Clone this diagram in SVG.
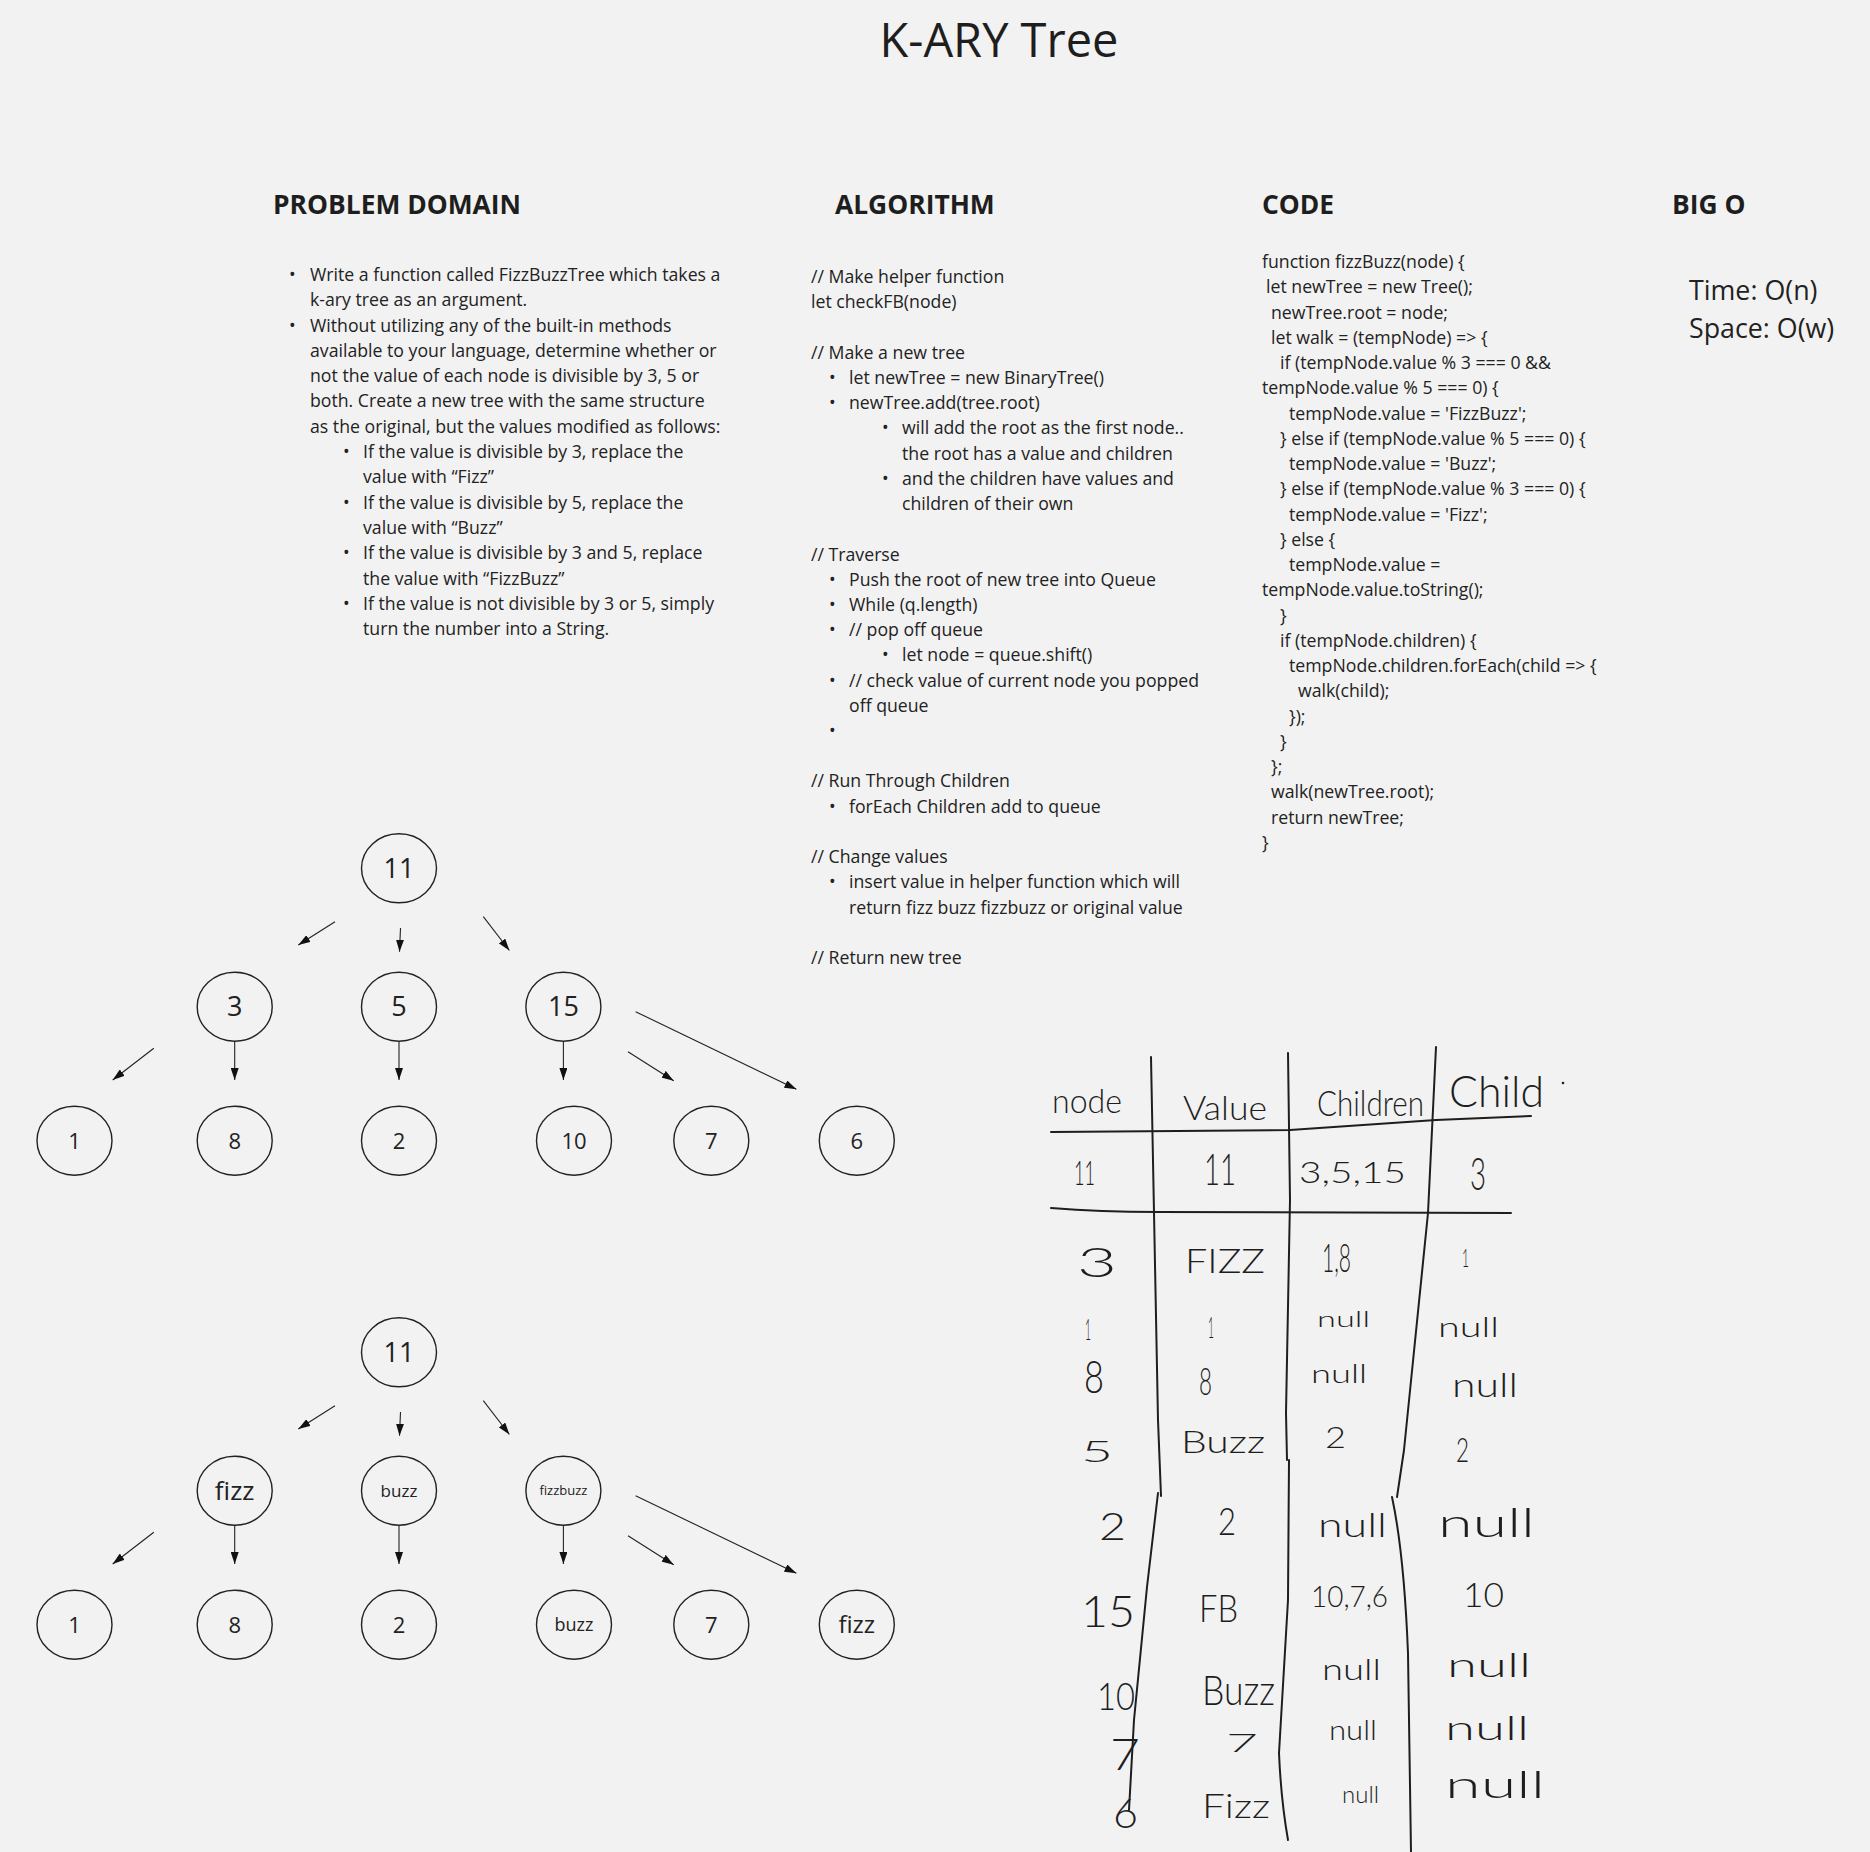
<svg xmlns="http://www.w3.org/2000/svg" width="1870" height="1852" viewBox="0 0 1870 1852">
<defs>
<style>
.bg{fill:#f2f2f2}
.t{font-family:"Open Sans","Noto Sans","Liberation Sans",sans-serif;font-size:17.7px;fill:#222}
.h{font-family:"Open Sans","Noto Sans","Liberation Sans",sans-serif;font-size:26.4px;font-weight:700;fill:#1e1e1e}
.title{font-family:"Open Sans","Noto Sans","Liberation Sans",sans-serif;font-size:47px;fill:#1e1e1e}
.bo{font-family:"Open Sans","Noto Sans","Liberation Sans",sans-serif;font-size:26.8px;fill:#222}
.node ellipse{fill:none;stroke:#222;stroke-width:1.4}
.node text{font-family:"Open Sans","Noto Sans","Liberation Sans",sans-serif;fill:#222;text-anchor:middle}
.edge{stroke:#222;stroke-width:1.1;fill:none;marker-end:url(#ah)}
.hw{font-family:Lato,Roboto,"Noto Sans",sans-serif;font-weight:300;fill:#1e1e1e}
.ink{fill:none;stroke:#1e1e1e;stroke-width:2;stroke-linecap:round;stroke-linejoin:round}
</style>
<marker id="ah" markerUnits="userSpaceOnUse" markerWidth="12" markerHeight="8" refX="12" refY="4" orient="auto">
<path d="M0,0 L12,4 L0,8 z" fill="#111"/>
</marker>
</defs>
<rect class="bg" x="0" y="0" width="1870" height="1852"/>

<text class="title" x="999" y="57" text-anchor="middle">K-ARY Tree</text>

<g id="problem-domain">
<text class="h" x="273" y="214">PROBLEM DOMAIN</text>
<text class="t" x="289" y="281">•</text><text class="t" x="310" y="281">Write a function called FizzBuzzTree which takes a</text>
<text class="t" x="310" y="306">k-ary tree as an argument.</text>
<text class="t" x="289" y="332">•</text><text class="t" x="310" y="332">Without utilizing any of the built-in methods</text>
<text class="t" x="310" y="357">available to your language, determine whether or</text>
<text class="t" x="310" y="382">not the value of each node is divisible by 3, 5 or</text>
<text class="t" x="310" y="407">both. Create a new tree with the same structure</text>
<text class="t" x="310" y="433">as the original, but the values modified as follows:</text>
<text class="t" x="343" y="458">•</text><text class="t" x="363" y="458">If the value is divisible by 3, replace the</text>
<text class="t" x="363" y="483">value with “Fizz”</text>
<text class="t" x="343" y="509">•</text><text class="t" x="363" y="509">If the value is divisible by 5, replace the</text>
<text class="t" x="363" y="534">value with “Buzz”</text>
<text class="t" x="343" y="559">•</text><text class="t" x="363" y="559">If the value is divisible by 3 and 5, replace</text>
<text class="t" x="363" y="585">the value with “FizzBuzz”</text>
<text class="t" x="343" y="610">•</text><text class="t" x="363" y="610">If the value is not divisible by 3 or 5, simply</text>
<text class="t" x="363" y="635">turn the number into a String.</text>
</g>

<g id="algorithm">
<text class="h" x="835" y="214">ALGORITHM</text>
<text class="t" x="811" y="283">// Make helper function</text>
<text class="t" x="811" y="308">let checkFB(node)</text>
<text class="t" x="811" y="359">// Make a new tree</text>
<text class="t" x="829" y="384">•</text><text class="t" x="849" y="384">let newTree = new BinaryTree()</text>
<text class="t" x="829" y="409">•</text><text class="t" x="849" y="409">newTree.add(tree.root)</text>
<text class="t" x="882" y="434">•</text><text class="t" x="902" y="434">will add the root as the first node..</text>
<text class="t" x="902" y="460">the root has a value and children</text>
<text class="t" x="882" y="485">•</text><text class="t" x="902" y="485">and the children have values and</text>
<text class="t" x="902" y="510">children of their own</text>
<text class="t" x="811" y="561">// Traverse</text>
<text class="t" x="829" y="586">•</text><text class="t" x="849" y="586">Push the root of new tree into Queue</text>
<text class="t" x="829" y="611">•</text><text class="t" x="849" y="611">While (q.length)</text>
<text class="t" x="829" y="636">•</text><text class="t" x="849" y="636">// pop off queue</text>
<text class="t" x="882" y="661">•</text><text class="t" x="902" y="661">let node = queue.shift()</text>
<text class="t" x="829" y="687">•</text><text class="t" x="849" y="687">// check value of current node you popped</text>
<text class="t" x="849" y="712">off queue</text>
<text class="t" x="829" y="737">•</text>
<text class="t" x="811" y="787">// Run Through Children</text>
<text class="t" x="829" y="813">•</text><text class="t" x="849" y="813">forEach Children add to queue</text>
<text class="t" x="811" y="863">// Change values</text>
<text class="t" x="829" y="888">•</text><text class="t" x="849" y="888">insert value in helper function which will</text>
<text class="t" x="849" y="914">return fizz buzz fizzbuzz or original value</text>
<text class="t" x="811" y="964">// Return new tree</text>
</g>

<g id="code">
<text class="h" x="1262" y="214">CODE</text>
<text class="t" x="1262" y="268">function fizzBuzz(node) {</text>
<text class="t" x="1266" y="293">let newTree = new Tree();</text>
<text class="t" x="1271" y="319">newTree.root = node;</text>
<text class="t" x="1271" y="344">let walk = (tempNode) =&gt; {</text>
<text class="t" x="1280" y="369">if (tempNode.value % 3 === 0 &amp;&amp;</text>
<text class="t" x="1262" y="394">tempNode.value % 5 === 0) {</text>
<text class="t" x="1289" y="420">tempNode.value = 'FizzBuzz';</text>
<text class="t" x="1280" y="445">} else if (tempNode.value % 5 === 0) {</text>
<text class="t" x="1289" y="470">tempNode.value = 'Buzz';</text>
<text class="t" x="1280" y="495">} else if (tempNode.value % 3 === 0) {</text>
<text class="t" x="1289" y="521">tempNode.value = 'Fizz';</text>
<text class="t" x="1280" y="546">} else {</text>
<text class="t" x="1289" y="571">tempNode.value =</text>
<text class="t" x="1262" y="596">tempNode.value.toString();</text>
<text class="t" x="1280" y="622">}</text>
<text class="t" x="1280" y="647">if (tempNode.children) {</text>
<text class="t" x="1289" y="672">tempNode.children.forEach(child =&gt; {</text>
<text class="t" x="1298" y="697">walk(child);</text>
<text class="t" x="1289" y="723">});</text>
<text class="t" x="1280" y="748">}</text>
<text class="t" x="1271" y="773">};</text>
<text class="t" x="1271" y="798">walk(newTree.root);</text>
<text class="t" x="1271" y="824">return newTree;</text>
<text class="t" x="1262" y="849">}</text>
</g>

<g id="big-o">
<text class="h" x="1672" y="214">BIG O</text>
<text class="bo" x="1689" y="300">Time: O(n)</text>
<text class="bo" x="1689" y="338">Space: O(w)</text>
</g>

<g id="connectors">
<path class="edge" d="M335,921.7 L298.3,945"/>
<path class="edge" d="M400.5,928 L399.5,951.7"/>
<path class="edge" d="M483.3,916.7 L509.4,950.5"/>
<path class="edge" d="M153.8,1048.3 L112.7,1080"/>
<path class="edge" d="M234.7,1041.7 L234.7,1080"/>
<path class="edge" d="M399,1041.7 L399,1080"/>
<path class="edge" d="M563.4,1041.7 L563.4,1080"/>
<path class="edge" d="M628,1051.7 L673.7,1080.7"/>
<path class="edge" d="M635.6,1011.7 L796.4,1089.3"/>
<g transform="translate(0,484)">
<path class="edge" d="M335,921.7 L298.3,945"/>
<path class="edge" d="M400.5,928 L399.5,951.7"/>
<path class="edge" d="M483.3,916.7 L509.4,950.5"/>
<path class="edge" d="M153.8,1048.3 L112.7,1080"/>
<path class="edge" d="M234.7,1041.7 L234.7,1080"/>
<path class="edge" d="M399,1041.7 L399,1080"/>
<path class="edge" d="M563.4,1041.7 L563.4,1080"/>
<path class="edge" d="M628,1051.7 L673.7,1080.7"/>
<path class="edge" d="M635.6,1011.7 L796.4,1089.3"/>
</g>
</g>

<g id="tree1">
<g id="t1-n11" class="node"><ellipse cx="399" cy="868.3" rx="37.5" ry="34.5"/><text x="399" y="878" font-size="27">11</text></g>
<g id="t1-n3" class="node"><ellipse cx="234.7" cy="1006.7" rx="37.5" ry="34.5"/><text x="234.7" y="1016.4" font-size="27">3</text></g>
<g id="t1-n5" class="node"><ellipse cx="399" cy="1006.7" rx="37.5" ry="34.5"/><text x="399" y="1016.4" font-size="27">5</text></g>
<g id="t1-n15" class="node"><ellipse cx="563.4" cy="1006.7" rx="37.5" ry="34.5"/><text x="563.4" y="1016.4" font-size="27">15</text></g>
<g id="t1-n1" class="node"><ellipse cx="74.5" cy="1140.7" rx="37.5" ry="34.5"/><text x="74.5" y="1148.6" font-size="22">1</text></g>
<g id="t1-n8" class="node"><ellipse cx="234.7" cy="1140.7" rx="37.5" ry="34.5"/><text x="234.7" y="1148.6" font-size="22">8</text></g>
<g id="t1-n2" class="node"><ellipse cx="399" cy="1140.7" rx="37.5" ry="34.5"/><text x="399" y="1148.6" font-size="22">2</text></g>
<g id="t1-n10" class="node"><ellipse cx="574" cy="1140.7" rx="37.5" ry="34.5"/><text x="574" y="1148.6" font-size="22">10</text></g>
<g id="t1-n7" class="node"><ellipse cx="711.3" cy="1140.7" rx="37.5" ry="34.5"/><text x="711.3" y="1148.6" font-size="22">7</text></g>
<g id="t1-n6" class="node"><ellipse cx="856.8" cy="1140.7" rx="37.5" ry="34.5"/><text x="856.8" y="1148.6" font-size="22">6</text></g>
</g>

<g id="tree2">
<g id="t2-n11" class="node"><ellipse cx="399" cy="1352.3" rx="37.5" ry="34.5"/><text x="399" y="1362" font-size="27">11</text></g>
<g id="t2-fizz" class="node"><ellipse cx="234.7" cy="1490.7" rx="37.5" ry="34.5"/><text x="234.7" y="1500" font-size="26">fizz</text></g>
<g id="t2-buzz" class="node"><ellipse cx="399" cy="1490.7" rx="37.5" ry="34.5"/><text x="399" y="1496.5" font-size="17">buzz</text></g>
<g id="t2-fizzbuzz" class="node"><ellipse cx="563.4" cy="1490.7" rx="37.5" ry="34.5"/><text x="563.4" y="1495" font-size="13">fizzbuzz</text></g>
<g id="t2-n1" class="node"><ellipse cx="74.5" cy="1624.7" rx="37.5" ry="34.5"/><text x="74.5" y="1632.6" font-size="22">1</text></g>
<g id="t2-n8" class="node"><ellipse cx="234.7" cy="1624.7" rx="37.5" ry="34.5"/><text x="234.7" y="1632.6" font-size="22">8</text></g>
<g id="t2-n2" class="node"><ellipse cx="399" cy="1624.7" rx="37.5" ry="34.5"/><text x="399" y="1632.6" font-size="22">2</text></g>
<g id="t2-buzz2" class="node"><ellipse cx="574" cy="1624.7" rx="37.5" ry="34.5"/><text x="574" y="1631.2" font-size="18">buzz</text></g>
<g id="t2-n7" class="node"><ellipse cx="711.3" cy="1624.7" rx="37.5" ry="34.5"/><text x="711.3" y="1632.6" font-size="22">7</text></g>
<g id="t2-fizz2" class="node"><ellipse cx="856.8" cy="1624.7" rx="37.5" ry="34.5"/><text x="856.8" y="1633" font-size="24">fizz</text></g>
</g>

<g id="handwritten-table">
<path class="ink" d="M1151,1057 L1158,1420 L1161,1496"/>
<path class="ink" d="M1158,1493 L1147,1587 L1134,1720 L1129,1810"/>
<path class="ink" d="M1288,1053 L1290,1200 L1286,1413 L1287,1460"/>
<path class="ink" d="M1289,1460 L1288,1600 L1279,1753 Q1281,1800 1288,1840"/>
<path class="ink" d="M1436,1047 L1428,1213 L1404,1450 L1397,1497"/>
<path class="ink" d="M1392,1497 Q1404,1553 1408,1653 L1411,1852"/>
<path class="ink" d="M1051,1132 L1290,1130 L1436,1120 L1531,1116"/>
<path class="ink" d="M1051,1208 Q1100,1212 1158,1212 L1511,1213"/>
<circle cx="1563" cy="1083" r="1.3" fill="#1e1e1e"/>

<text class="hw" x="1052" y="1113" font-size="34" textLength="70" lengthAdjust="spacingAndGlyphs">node</text>
<text class="hw" x="1183" y="1120" font-size="34" textLength="84" lengthAdjust="spacingAndGlyphs">Value</text>
<text class="hw" x="1317" y="1116" font-size="36" textLength="107" lengthAdjust="spacingAndGlyphs">Children</text>
<text class="hw" x="1449" y="1107" font-size="44" textLength="95" lengthAdjust="spacingAndGlyphs">Child</text>

<text class="hw" x="1074" y="1185" font-size="34" textLength="21" lengthAdjust="spacingAndGlyphs">11</text>
<text class="hw" x="1204" y="1185" font-size="44" textLength="32" lengthAdjust="spacingAndGlyphs">11</text>
<text class="hw" x="1299" y="1183" font-size="30" textLength="107" lengthAdjust="spacingAndGlyphs">3,5,15</text>
<text class="hw" x="1470" y="1190" font-size="45" textLength="16" lengthAdjust="spacingAndGlyphs">3</text>

<text class="hw" x="1077" y="1277" font-size="42" textLength="40" lengthAdjust="spacingAndGlyphs">3</text>
<text class="hw" x="1185" y="1273" font-size="34" textLength="80" lengthAdjust="spacingAndGlyphs">FIZZ</text>
<text class="hw" x="1322" y="1272" font-size="40" textLength="29" lengthAdjust="spacingAndGlyphs">1,8</text>
<text class="hw" x="1462" y="1267" font-size="26" textLength="7" lengthAdjust="spacingAndGlyphs">1</text>

<text class="hw" x="1085" y="1340" font-size="30" textLength="6" lengthAdjust="spacingAndGlyphs">1</text>
<text class="hw" x="1208" y="1338" font-size="29" textLength="6" lengthAdjust="spacingAndGlyphs">1</text>
<text class="hw" x="1317" y="1327" font-size="21" textLength="53" lengthAdjust="spacingAndGlyphs">null</text>
<text class="hw" x="1438" y="1337" font-size="27" textLength="61" lengthAdjust="spacingAndGlyphs">null</text>

<text class="hw" x="1084" y="1393" font-size="45" textLength="20" lengthAdjust="spacingAndGlyphs">8</text>
<text class="hw" x="1199" y="1395" font-size="38" textLength="13" lengthAdjust="spacingAndGlyphs">8</text>
<text class="hw" x="1311" y="1383" font-size="25" textLength="56" lengthAdjust="spacingAndGlyphs">null</text>
<text class="hw" x="1452" y="1397" font-size="34" textLength="66" lengthAdjust="spacingAndGlyphs">null</text>

<text class="hw" x="1081" y="1462" font-size="30" textLength="32" lengthAdjust="spacingAndGlyphs">5</text>
<text class="hw" x="1181" y="1453" font-size="32" textLength="84" lengthAdjust="spacingAndGlyphs">Buzz</text>
<text class="hw" x="1325" y="1448" font-size="29" textLength="21" lengthAdjust="spacingAndGlyphs">2</text>
<text class="hw" x="1456" y="1462" font-size="34" textLength="13" lengthAdjust="spacingAndGlyphs">2</text>

<text class="hw" x="1099" y="1540" font-size="37" textLength="27" lengthAdjust="spacingAndGlyphs">2</text>
<text class="hw" x="1218" y="1535" font-size="38" textLength="18" lengthAdjust="spacingAndGlyphs">2</text>
<text class="hw" x="1318" y="1537" font-size="34" textLength="69" lengthAdjust="spacingAndGlyphs">null</text>
<text class="hw" x="1438" y="1537" font-size="40" textLength="97" lengthAdjust="spacingAndGlyphs">null</text>

<text class="hw" x="1081" y="1627" font-size="44" textLength="54" lengthAdjust="spacingAndGlyphs">15</text>
<text class="hw" x="1199" y="1622" font-size="37" textLength="39" lengthAdjust="spacingAndGlyphs">FB</text>
<text class="hw" x="1311" y="1607" font-size="30" textLength="77" lengthAdjust="spacingAndGlyphs">10,7,6</text>
<text class="hw" x="1463" y="1607" font-size="33" textLength="41" lengthAdjust="spacingAndGlyphs">10</text>

<text class="hw" x="1097" y="1710" font-size="37" textLength="38" lengthAdjust="spacingAndGlyphs">10</text>
<text class="hw" x="1202" y="1705" font-size="42" textLength="73" lengthAdjust="spacingAndGlyphs">Buzz</text>
<text class="hw" x="1322" y="1680" font-size="30" textLength="59" lengthAdjust="spacingAndGlyphs">null</text>
<text class="hw" x="1447" y="1677" font-size="34" textLength="84" lengthAdjust="spacingAndGlyphs">null</text>

<text class="hw" x="1110" y="1770" font-size="44" textLength="30" lengthAdjust="spacingAndGlyphs">7</text>
<text class="hw" x="1226" y="1752" font-size="26" textLength="32" lengthAdjust="spacingAndGlyphs">7</text>
<text class="hw" x="1329" y="1740" font-size="27" textLength="48" lengthAdjust="spacingAndGlyphs">null</text>
<text class="hw" x="1445" y="1740" font-size="34" textLength="84" lengthAdjust="spacingAndGlyphs">null</text>

<text class="hw" x="1113" y="1828" font-size="41" textLength="25" lengthAdjust="spacingAndGlyphs">6</text>
<text class="hw" x="1202" y="1818" font-size="33" textLength="68" lengthAdjust="spacingAndGlyphs">Fizz</text>
<text class="hw" x="1342" y="1803" font-size="24" textLength="37" lengthAdjust="spacingAndGlyphs">null</text>
<text class="hw" x="1445" y="1798" font-size="38" textLength="100" lengthAdjust="spacingAndGlyphs">null</text>
</g>
</svg>
